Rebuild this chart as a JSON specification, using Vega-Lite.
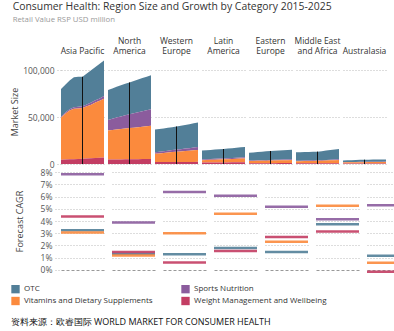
{
  "$schema": "https://vega.github.io/schema/vega-lite/v6.json",
  "padding": {"left": 10, "top": 2, "right": 5, "bottom": 4},
  "background": "white",
  "datasets": {
    "sizes": [
      {"region":"Asia Pacific","year":2015,"OTC":29500,"Sports Nutrition":1200,"Vitamins and Dietary Supplements":44800,"Weight Management and Wellbeing":4500},
      {"region":"Asia Pacific","year":2016,"OTC":29500,"Sports Nutrition":1300,"Vitamins and Dietary Supplements":49000,"Weight Management and Wellbeing":4700},
      {"region":"Asia Pacific","year":2017,"OTC":30500,"Sports Nutrition":1400,"Vitamins and Dietary Supplements":52100,"Weight Management and Wellbeing":5000},
      {"region":"Asia Pacific","year":2018,"OTC":32000,"Sports Nutrition":1600,"Vitamins and Dietary Supplements":53700,"Weight Management and Wellbeing":5200},
      {"region":"Asia Pacific","year":2019,"OTC":32000,"Sports Nutrition":1700,"Vitamins and Dietary Supplements":53900,"Weight Management and Wellbeing":5400},
      {"region":"Asia Pacific","year":2020,"OTC":31500,"Sports Nutrition":1800,"Vitamins and Dietary Supplements":54100,"Weight Management and Wellbeing":5600},
      {"region":"Asia Pacific","year":2021,"OTC":33000,"Sports Nutrition":2000,"Vitamins and Dietary Supplements":55600,"Weight Management and Wellbeing":5900},
      {"region":"Asia Pacific","year":2022,"OTC":34500,"Sports Nutrition":2200,"Vitamins and Dietary Supplements":57100,"Weight Management and Wellbeing":6200},
      {"region":"Asia Pacific","year":2023,"OTC":35500,"Sports Nutrition":2400,"Vitamins and Dietary Supplements":59100,"Weight Management and Wellbeing":6500},
      {"region":"Asia Pacific","year":2024,"OTC":37000,"Sports Nutrition":2600,"Vitamins and Dietary Supplements":60600,"Weight Management and Wellbeing":6800},
      {"region":"Asia Pacific","year":2025,"OTC":38000,"Sports Nutrition":2800,"Vitamins and Dietary Supplements":62700,"Weight Management and Wellbeing":7000},
      {"region":"North America","year":2015,"OTC":32000,"Sports Nutrition":11200,"Vitamins and Dietary Supplements":31000,"Weight Management and Wellbeing":4800},
      {"region":"North America","year":2016,"OTC":32400,"Sports Nutrition":11900,"Vitamins and Dietary Supplements":31500,"Weight Management and Wellbeing":4800},
      {"region":"North America","year":2017,"OTC":32800,"Sports Nutrition":12600,"Vitamins and Dietary Supplements":32000,"Weight Management and Wellbeing":4900},
      {"region":"North America","year":2018,"OTC":33200,"Sports Nutrition":13300,"Vitamins and Dietary Supplements":32500,"Weight Management and Wellbeing":4900},
      {"region":"North America","year":2019,"OTC":33600,"Sports Nutrition":14000,"Vitamins and Dietary Supplements":32900,"Weight Management and Wellbeing":5000},
      {"region":"North America","year":2020,"OTC":34000,"Sports Nutrition":14700,"Vitamins and Dietary Supplements":33300,"Weight Management and Wellbeing":5000},
      {"region":"North America","year":2021,"OTC":34400,"Sports Nutrition":15300,"Vitamins and Dietary Supplements":33700,"Weight Management and Wellbeing":5100},
      {"region":"North America","year":2022,"OTC":34900,"Sports Nutrition":15900,"Vitamins and Dietary Supplements":34100,"Weight Management and Wellbeing":5200},
      {"region":"North America","year":2023,"OTC":35400,"Sports Nutrition":16500,"Vitamins and Dietary Supplements":34500,"Weight Management and Wellbeing":5300},
      {"region":"North America","year":2024,"OTC":35800,"Sports Nutrition":17100,"Vitamins and Dietary Supplements":34900,"Weight Management and Wellbeing":5300},
      {"region":"North America","year":2025,"OTC":36300,"Sports Nutrition":17800,"Vitamins and Dietary Supplements":35300,"Weight Management and Wellbeing":5400},
      {"region":"Western Europe","year":2015,"OTC":24200,"Sports Nutrition":1600,"Vitamins and Dietary Supplements":8800,"Weight Management and Wellbeing":2100},
      {"region":"Western Europe","year":2016,"OTC":24300,"Sports Nutrition":1730,"Vitamins and Dietary Supplements":9200,"Weight Management and Wellbeing":2120},
      {"region":"Western Europe","year":2017,"OTC":24400,"Sports Nutrition":1860,"Vitamins and Dietary Supplements":9600,"Weight Management and Wellbeing":2140},
      {"region":"Western Europe","year":2018,"OTC":24500,"Sports Nutrition":2000,"Vitamins and Dietary Supplements":10100,"Weight Management and Wellbeing":2160},
      {"region":"Western Europe","year":2019,"OTC":24500,"Sports Nutrition":2150,"Vitamins and Dietary Supplements":10500,"Weight Management and Wellbeing":2180},
      {"region":"Western Europe","year":2020,"OTC":24600,"Sports Nutrition":2300,"Vitamins and Dietary Supplements":10900,"Weight Management and Wellbeing":2200},
      {"region":"Western Europe","year":2021,"OTC":24900,"Sports Nutrition":2450,"Vitamins and Dietary Supplements":11200,"Weight Management and Wellbeing":2210},
      {"region":"Western Europe","year":2022,"OTC":25200,"Sports Nutrition":2600,"Vitamins and Dietary Supplements":11600,"Weight Management and Wellbeing":2230},
      {"region":"Western Europe","year":2023,"OTC":25600,"Sports Nutrition":2770,"Vitamins and Dietary Supplements":11900,"Weight Management and Wellbeing":2240},
      {"region":"Western Europe","year":2024,"OTC":25900,"Sports Nutrition":2950,"Vitamins and Dietary Supplements":12300,"Weight Management and Wellbeing":2260},
      {"region":"Western Europe","year":2025,"OTC":26200,"Sports Nutrition":3140,"Vitamins and Dietary Supplements":12600,"Weight Management and Wellbeing":2270},
      {"region":"Latin America","year":2015,"OTC":9500,"Sports Nutrition":800,"Vitamins and Dietary Supplements":2600,"Weight Management and Wellbeing":1500},
      {"region":"Latin America","year":2016,"OTC":9600,"Sports Nutrition":840,"Vitamins and Dietary Supplements":2740,"Weight Management and Wellbeing":1540},
      {"region":"Latin America","year":2017,"OTC":9700,"Sports Nutrition":880,"Vitamins and Dietary Supplements":2880,"Weight Management and Wellbeing":1580},
      {"region":"Latin America","year":2018,"OTC":9800,"Sports Nutrition":920,"Vitamins and Dietary Supplements":3020,"Weight Management and Wellbeing":1620},
      {"region":"Latin America","year":2019,"OTC":9900,"Sports Nutrition":960,"Vitamins and Dietary Supplements":3160,"Weight Management and Wellbeing":1660},
      {"region":"Latin America","year":2020,"OTC":10000,"Sports Nutrition":1000,"Vitamins and Dietary Supplements":3300,"Weight Management and Wellbeing":1700},
      {"region":"Latin America","year":2021,"OTC":10180,"Sports Nutrition":1060,"Vitamins and Dietary Supplements":3450,"Weight Management and Wellbeing":1730},
      {"region":"Latin America","year":2022,"OTC":10360,"Sports Nutrition":1120,"Vitamins and Dietary Supplements":3610,"Weight Management and Wellbeing":1750},
      {"region":"Latin America","year":2023,"OTC":10550,"Sports Nutrition":1190,"Vitamins and Dietary Supplements":3780,"Weight Management and Wellbeing":1780},
      {"region":"Latin America","year":2024,"OTC":10740,"Sports Nutrition":1270,"Vitamins and Dietary Supplements":3950,"Weight Management and Wellbeing":1810},
      {"region":"Latin America","year":2025,"OTC":10930,"Sports Nutrition":1340,"Vitamins and Dietary Supplements":4130,"Weight Management and Wellbeing":1830},
      {"region":"Eastern Europe","year":2015,"OTC":8400,"Sports Nutrition":450,"Vitamins and Dietary Supplements":2400,"Weight Management and Wellbeing":800},
      {"region":"Eastern Europe","year":2016,"OTC":8600,"Sports Nutrition":480,"Vitamins and Dietary Supplements":2480,"Weight Management and Wellbeing":820},
      {"region":"Eastern Europe","year":2017,"OTC":8850,"Sports Nutrition":510,"Vitamins and Dietary Supplements":2560,"Weight Management and Wellbeing":840},
      {"region":"Eastern Europe","year":2018,"OTC":9100,"Sports Nutrition":540,"Vitamins and Dietary Supplements":2640,"Weight Management and Wellbeing":860},
      {"region":"Eastern Europe","year":2019,"OTC":9350,"Sports Nutrition":570,"Vitamins and Dietary Supplements":2720,"Weight Management and Wellbeing":880},
      {"region":"Eastern Europe","year":2020,"OTC":9600,"Sports Nutrition":600,"Vitamins and Dietary Supplements":2800,"Weight Management and Wellbeing":900},
      {"region":"Eastern Europe","year":2021,"OTC":9740,"Sports Nutrition":630,"Vitamins and Dietary Supplements":2860,"Weight Management and Wellbeing":920},
      {"region":"Eastern Europe","year":2022,"OTC":9880,"Sports Nutrition":660,"Vitamins and Dietary Supplements":2930,"Weight Management and Wellbeing":950},
      {"region":"Eastern Europe","year":2023,"OTC":10020,"Sports Nutrition":700,"Vitamins and Dietary Supplements":3000,"Weight Management and Wellbeing":970},
      {"region":"Eastern Europe","year":2024,"OTC":10170,"Sports Nutrition":730,"Vitamins and Dietary Supplements":3070,"Weight Management and Wellbeing":1000},
      {"region":"Eastern Europe","year":2025,"OTC":10320,"Sports Nutrition":770,"Vitamins and Dietary Supplements":3140,"Weight Management and Wellbeing":1030},
      {"region":"Middle East and Africa","year":2015,"OTC":9100,"Sports Nutrition":500,"Vitamins and Dietary Supplements":2200,"Weight Management and Wellbeing":700},
      {"region":"Middle East and Africa","year":2016,"OTC":9100,"Sports Nutrition":520,"Vitamins and Dietary Supplements":2280,"Weight Management and Wellbeing":720},
      {"region":"Middle East and Africa","year":2017,"OTC":9120,"Sports Nutrition":540,"Vitamins and Dietary Supplements":2360,"Weight Management and Wellbeing":740},
      {"region":"Middle East and Africa","year":2018,"OTC":9150,"Sports Nutrition":560,"Vitamins and Dietary Supplements":2440,"Weight Management and Wellbeing":760},
      {"region":"Middle East and Africa","year":2019,"OTC":9180,"Sports Nutrition":580,"Vitamins and Dietary Supplements":2520,"Weight Management and Wellbeing":780},
      {"region":"Middle East and Africa","year":2020,"OTC":9200,"Sports Nutrition":600,"Vitamins and Dietary Supplements":2600,"Weight Management and Wellbeing":800},
      {"region":"Middle East and Africa","year":2021,"OTC":9540,"Sports Nutrition":620,"Vitamins and Dietary Supplements":2740,"Weight Management and Wellbeing":820},
      {"region":"Middle East and Africa","year":2022,"OTC":9900,"Sports Nutrition":650,"Vitamins and Dietary Supplements":2880,"Weight Management and Wellbeing":850},
      {"region":"Middle East and Africa","year":2023,"OTC":10270,"Sports Nutrition":680,"Vitamins and Dietary Supplements":3030,"Weight Management and Wellbeing":880},
      {"region":"Middle East and Africa","year":2024,"OTC":10660,"Sports Nutrition":710,"Vitamins and Dietary Supplements":3190,"Weight Management and Wellbeing":900},
      {"region":"Middle East and Africa","year":2025,"OTC":11060,"Sports Nutrition":740,"Vitamins and Dietary Supplements":3360,"Weight Management and Wellbeing":930},
      {"region":"Australasia","year":2015,"OTC":1800,"Sports Nutrition":300,"Vitamins and Dietary Supplements":1200,"Weight Management and Wellbeing":500},
      {"region":"Australasia","year":2016,"OTC":1880,"Sports Nutrition":320,"Vitamins and Dietary Supplements":1260,"Weight Management and Wellbeing":500},
      {"region":"Australasia","year":2017,"OTC":1960,"Sports Nutrition":340,"Vitamins and Dietary Supplements":1320,"Weight Management and Wellbeing":500},
      {"region":"Australasia","year":2018,"OTC":2040,"Sports Nutrition":360,"Vitamins and Dietary Supplements":1380,"Weight Management and Wellbeing":500},
      {"region":"Australasia","year":2019,"OTC":2120,"Sports Nutrition":380,"Vitamins and Dietary Supplements":1440,"Weight Management and Wellbeing":500},
      {"region":"Australasia","year":2020,"OTC":2200,"Sports Nutrition":400,"Vitamins and Dietary Supplements":1500,"Weight Management and Wellbeing":500},
      {"region":"Australasia","year":2021,"OTC":2230,"Sports Nutrition":420,"Vitamins and Dietary Supplements":1510,"Weight Management and Wellbeing":500},
      {"region":"Australasia","year":2022,"OTC":2250,"Sports Nutrition":440,"Vitamins and Dietary Supplements":1520,"Weight Management and Wellbeing":500},
      {"region":"Australasia","year":2023,"OTC":2280,"Sports Nutrition":470,"Vitamins and Dietary Supplements":1530,"Weight Management and Wellbeing":500},
      {"region":"Australasia","year":2024,"OTC":2300,"Sports Nutrition":490,"Vitamins and Dietary Supplements":1540,"Weight Management and Wellbeing":500},
      {"region":"Australasia","year":2025,"OTC":2330,"Sports Nutrition":520,"Vitamins and Dietary Supplements":1540,"Weight Management and Wellbeing":500}
    ],
    "cagr": [
      {"region":"Asia Pacific","category":"OTC","cagr":0.0325},
      {"region":"Asia Pacific","category":"Vitamins and Dietary Supplements","cagr":0.0306},
      {"region":"Asia Pacific","category":"Sports Nutrition","cagr":0.0784},
      {"region":"Asia Pacific","category":"Weight Management and Wellbeing","cagr":0.0437},
      {"region":"North America","category":"OTC","cagr":0.0131},
      {"region":"North America","category":"Vitamins and Dietary Supplements","cagr":0.0117},
      {"region":"North America","category":"Sports Nutrition","cagr":0.0388},
      {"region":"North America","category":"Weight Management and Wellbeing","cagr":0.0145},
      {"region":"Western Europe","category":"OTC","cagr":0.0126},
      {"region":"Western Europe","category":"Vitamins and Dietary Supplements","cagr":0.030},
      {"region":"Western Europe","category":"Sports Nutrition","cagr":0.0639},
      {"region":"Western Europe","category":"Weight Management and Wellbeing","cagr":0.006},
      {"region":"Latin America","category":"OTC","cagr":0.0178},
      {"region":"Latin America","category":"Vitamins and Dietary Supplements","cagr":0.0459},
      {"region":"Latin America","category":"Sports Nutrition","cagr":0.0607},
      {"region":"Latin America","category":"Weight Management and Wellbeing","cagr":0.0153},
      {"region":"Eastern Europe","category":"OTC","cagr":0.0145},
      {"region":"Eastern Europe","category":"Vitamins and Dietary Supplements","cagr":0.023},
      {"region":"Eastern Europe","category":"Sports Nutrition","cagr":0.0516},
      {"region":"Eastern Europe","category":"Weight Management and Wellbeing","cagr":0.0268},
      {"region":"Middle East and Africa","category":"OTC","cagr":0.0374},
      {"region":"Middle East and Africa","category":"Vitamins and Dietary Supplements","cagr":0.0525},
      {"region":"Middle East and Africa","category":"Sports Nutrition","cagr":0.0415},
      {"region":"Middle East and Africa","category":"Weight Management and Wellbeing","cagr":0.0314},
      {"region":"Australasia","category":"OTC","cagr":0.0115},
      {"region":"Australasia","category":"Vitamins and Dietary Supplements","cagr":0.0057},
      {"region":"Australasia","category":"Sports Nutrition","cagr":0.053},
      {"region":"Australasia","category":"Weight Management and Wellbeing","cagr":-0.0016}
    ]
  },
  "title": {
    "text": "资料来源：欧睿国际  WORLD MARKET FOR CONSUMER HEALTH",
    "orient": "bottom",
    "anchor": "start",
    "frame": "bounds",
    "fontSize": 9,
    "fontWeight": "normal",
    "color": "#111111",
    "offset": 12
  },
  "spacing": -9.5,
  "vconcat": [
    {
      "title": {
        "text": "Consumer Health: Region Size and Growth by Category 2015-2025",
        "subtitle": "Retail Value RSP USD million",
        "anchor": "start",
        "frame": "bounds",
        "dx": 2,
        "fontSize": 10.4,
        "fontWeight": "normal",
        "color": "#333333",
        "subtitleFontSize": 7.8,
        "subtitleColor": "#999999",
        "subtitlePadding": 3,
        "offset": 13
      },
      "data": {"name": "sizes"},
      "transform": [
        {"fold": ["OTC", "Sports Nutrition", "Vitamins and Dietary Supplements", "Weight Management and Wellbeing"], "as": ["category", "value"]}
      ],
      "facet": {
        "column": {
          "field": "region",
          "type": "nominal",
          "sort": ["Asia Pacific", "North America", "Western Europe", "Latin America", "Eastern Europe", "Middle East and Africa", "Australasia"],
          "header": {
            "title": null,
            "labelFontSize": 8.5,
            "labelColor": "#333333",
            "labelPadding": 4,
            "labelBaseline": "top",
            "labelLineHeight": 10,
            "labelExpr": "datum.value == 'North America' ? ['North','America'] : datum.value == 'Western Europe' ? ['Western','Europe'] : datum.value == 'Latin America' ? ['Latin','America'] : datum.value == 'Eastern Europe' ? ['Eastern','Europe'] : datum.value == 'Middle East and Africa' ? ['Middle East','and Africa'] : ['', datum.value]"
          }
        }
      },
      "spacing": 4,
      "spec": {
        "width": 43,
        "height": 105,
        "layer": [
          {
            "mark": {"type": "area", "opacity": 1},
            "encoding": {
              "x": {"field": "year", "type": "quantitative", "scale": {"domain": [2015, 2025], "nice": false, "zero": false}, "axis": null},
              "y": {
                "field": "value", "type": "quantitative", "aggregate": "sum", "stack": "zero",
                "scale": {"domain": [0, 112000], "nice": false},
                "axis": {"title": "Market Size", "values": [0, 50000, 100000], "format": ",.0f", "titlePadding": 3, "labelPadding": 2}
              },
              "color": {
                "field": "category", "type": "nominal",
                "scale": {
                  "domain": ["OTC", "Sports Nutrition", "Vitamins and Dietary Supplements", "Weight Management and Wellbeing"],
                  "range": ["#527f98", "#8b5c9d", "#fb8a3d", "#c33d63"]
                },
                "legend": {
                  "orient": "none",
                  "legendX": -50,
                  "legendY": 225.5,
                  "direction": "horizontal",
                  "title": null,
                  "columns": 2,
                  "symbolType": "square",
                  "symbolSize": 70,
                  "symbolStrokeWidth": 0,
                  "labelFontSize": 8,
                  "labelColor": "#333333",
                  "columnPadding": 28,
                  "rowPadding": 3,
                  "labelLimit": 200
                }
              },
              "order": {"field": "category", "sort": "descending"}
            }
          },
          {
            "transform": [
              {"filter": "datum.year == 2020"},
              {"aggregate": [{"op": "sum", "field": "value", "as": "total"}], "groupby": ["region", "year"]}
            ],
            "mark": {"type": "rule", "color": "#111111", "strokeWidth": 1},
            "encoding": {
              "x": {"field": "year", "type": "quantitative"},
              "y": {"field": "total", "type": "quantitative", "axis": {"title": "Market Size", "values": [0, 50000, 100000], "format": ",.0f", "titlePadding": 3, "labelPadding": 2}},
              "y2": {"datum": 0}
            }
          }
        ]
      }
    },
    {
      "data": {"name": "cagr"},
      "facet": {
        "column": {
          "field": "region",
          "type": "nominal",
          "sort": ["Asia Pacific", "North America", "Western Europe", "Latin America", "Eastern Europe", "Middle East and Africa", "Australasia"],
          "header": null
        }
      },
      "spacing": 4,
      "spec": {
        "width": 43,
        "height": 104,
        "mark": {"type": "rule", "strokeWidth": 2.5, "opacity": 0.9},
        "encoding": {
          "y": {
            "field": "cagr", "type": "quantitative",
            "scale": {"domain": [-0.0027, 0.0827], "nice": false, "zero": false},
            "axis": {
              "title": "Forecast CAGR",
              "values": [0, 0.01, 0.02, 0.03, 0.04, 0.05, 0.06, 0.07, 0.08],
              "format": ".0%",
              "titlePadding": 16,
              "labelPadding": 2,
              "gridDash": {"condition": {"test": "datum.value === 0", "value": [3, 2]}, "value": [1, 2]},
              "gridColor": {"condition": {"test": "datum.value === 0", "value": "#999999"}, "value": "#bbbbbb"}
            }
          },
          "color": {"field": "category", "type": "nominal"}
        }
      }
    }
  ],
  "config": {
    "font": "Open Sans",
    "view": {"stroke": null},
    "header": {"labelPadding": 4},
    "axis": {
      "labelColor": "#555555",
      "labelFontSize": 8.5,
      "titleColor": "#444444",
      "titleFontSize": 9,
      "titleFontWeight": "normal",
      "domain": false,
      "grid": true,
      "gridColor": "#bbbbbb",
      "gridDash": [1, 2],
      "tickColor": "#bbbbbb",
      "tickDash": [1, 2],
      "tickSize": 5
    }
  }
}
